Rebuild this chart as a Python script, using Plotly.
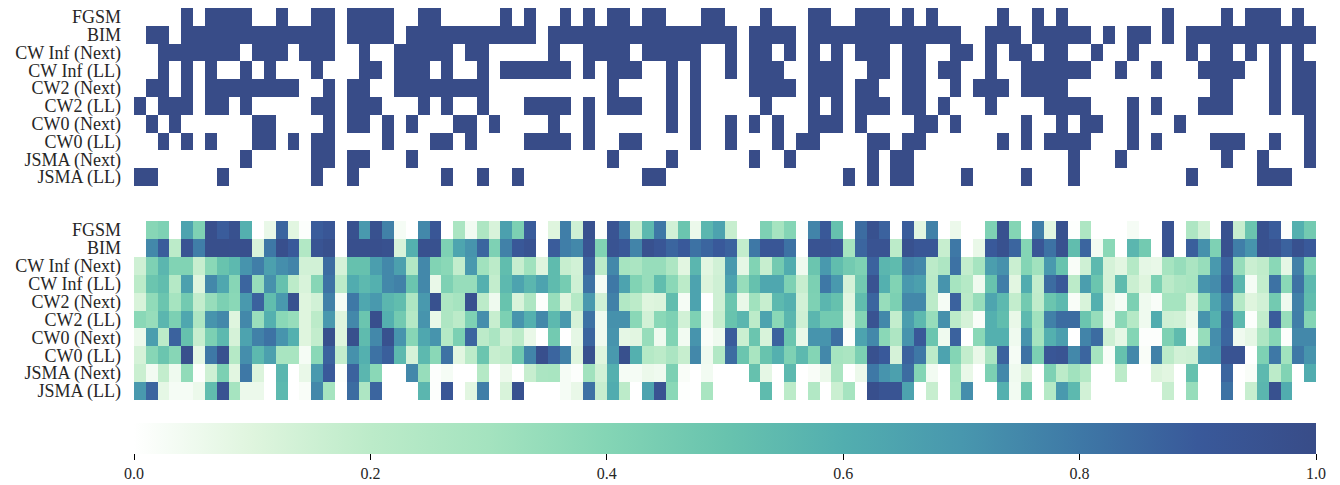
import plotly.graph_objects as go

labels = ["FGSM", "BIM", "CW Inf (Next)", "CW Inf (LL)", "CW2 (Next)", "CW2 (LL)",
          "CW0 (Next)", "CW0 (LL)", "JSMA (Next)", "JSMA (LL)"]
columns = list(range(100))
scale_ticks = [0, .2, .4, .6, .8, 1]
scale_tick_labels = ["0.0", "0.2", "0.4", "0.6", "0.8", "1.0"]

# Upper panel: columns in which each attack succeeded
on_fgsm = [4,6,7,8,9,12,15,16,18,19,20,21,24,25,31,33,36,38,40,41,43,44,48,49,53,57,58,61,62,63,65,67,73,76,78,87,92,94,95,96,98]
on_bim = [1,2,4,5,6,7,8,9,10,11,12,13,14,15,16,18,19,20,21,23,24,25,26,27,28,29,30,31,32,33,35,36,37,38,39,40,41,42,43,44,45,46,47,48,49,50,52,53,54,55,57,58,59,60,61,62,63,64,65,66,67,68,69,72,73,74,76,77,78,79,80,82,84,85,87,89,90,91,92,93,94,95,96,97,98,99]
on_cwinf_next = [2,3,4,5,6,7,8,10,11,12,14,15,16,19,22,23,24,25,26,28,29,35,38,39,40,41,43,44,45,46,47,50,52,53,55,57,59,61,62,63,65,66,69,70,72,74,75,77,78,81,84,89,91,92,94,96,98]
on_cwinf_ll = [2,4,6,9,11,15,19,20,22,23,24,26,29,31,32,33,34,35,36,38,40,41,42,45,47,50,52,53,54,57,58,59,62,63,65,66,68,69,72,75,76,77,78,79,80,83,86,90,91,92,93,96,98,99]
on_cw2_next = [1,2,4,6,7,8,9,10,11,12,13,16,18,19,22,23,24,25,26,27,28,29,40,45,47,52,53,54,55,57,58,59,61,62,65,66,69,71,72,73,75,76,77,78,91,92,96,98,99]
on_cw2_ll = [0,2,3,4,6,7,9,15,16,18,19,20,24,26,29,33,34,35,36,38,40,41,42,45,47,53,57,59,61,62,63,65,66,68,72,77,78,79,80,84,86,90,91,92,96,98,99]
on_cw0_next = [1,3,10,11,16,18,19,21,23,27,28,30,35,38,45,47,50,52,54,57,58,59,61,66,67,69,75,78,80,81,84,88,99]
on_cw0_ll = [2,4,6,10,11,13,15,16,21,25,26,28,33,34,35,36,38,41,42,47,50,54,56,57,62,63,65,66,73,75,77,78,79,80,84,86,91,92,93,96,99]
on_jsma_next = [9,15,16,18,19,23,40,45,52,55,62,64,65,79,83,92,95,99]
on_jsma_ll = [0,1,7,15,18,26,29,32,43,44,60,62,64,65,70,75,79,89,95,96,97]

# Lower panel: score per column
v_fgsm = [0,.39,.42,0,.65,.42,.975,.89,.96,.59,0,.07,.86,.09,.01,.89,.92,0,.96,.69,.96,.77,.03,0,.75,.92,0,.27,.04,.26,.12,.66,.43,.89,
          0,.1,.78,.15,.96,.01,.94,.8,.17,.55,.8,.14,.49,.06,.56,.65,.17,0,0,.42,.29,.4,.01,.76,.91,.51,0,.84,.96,.87,0,.89,.09,
          .77,0,.06,0,0,.42,.96,.4,0,.78,.09,.96,.005,.26,0,0,0,.03,0,0,.945,0,.26,.14,0,.96,.17,.49,.96,.89,.01,.59,.46]
v_bim = [0,.75,.89,.2,.94,.78,.98,.98,.975,.975,.12,.8,.975,.9,.24,.94,.97,0,.975,.975,.975,.96,.12,.59,.96,.96,.42,.64,.71,.86,.42,.77,.91,.945,
         0,.89,.78,.75,.945,.41,.945,.91,.76,.96,.92,.86,.9,.82,.86,.9,.87,.18,.8,.92,.92,.82,0,.945,.945,.92,.29,.86,.945,.945,.2,.96,.92,
         .92,.17,.8,0,.07,.9,.96,.86,.4,.92,.82,.96,.53,.86,.04,.38,0,.56,.46,0,.945,0,.88,.72,.42,.96,.78,.71,.96,.945,.87,.96,.9]
v_cwinf_next = [.15,.42,.56,.41,.41,.17,.38,.5,.55,.71,.78,.66,.73,.76,.14,.14,.84,.13,.51,.51,.67,.75,.66,.24,.75,.41,.38,.18,.69,.31,.2,.53,.17,.31,
                .1,.54,.17,.14,.87,.2,.75,.29,.27,.34,.34,.26,.09,.56,.09,.14,.69,.08,.41,.17,.46,.61,.05,.49,.69,.53,.46,.42,.87,.56,.54,.77,.75,
                .2,.26,.82,.18,.29,.67,.72,.16,.4,.31,.69,.5,.02,.15,.55,.13,.09,.23,.08,.07,.29,.34,.27,.34,.69,.87,.34,.16,.19,.38,.08,.77,.43]
v_cwinf_ll = [.2,.49,.53,.23,.66,.1,.75,.63,.39,.86,.34,.72,.51,.2,.12,.39,.82,.2,.61,.55,.59,.75,.77,.49,.75,.07,.42,.34,.34,.59,.18,.55,.65,.56,
              .65,.54,.45,.15,.82,.03,.8,.65,.41,.34,.53,.38,.2,.65,.11,.15,.65,.34,.51,.63,.63,.42,.17,.43,.8,.69,.13,.46,.945,.59,.41,.69,.66,
              .21,.71,.29,.23,.05,.5,.78,.09,.61,.18,.84,.91,.2,.67,.49,.13,.54,.16,.1,.43,.21,.26,.28,.71,.74,.9,.56,.03,.18,.82,.38,.82,.55]
v_cw2_next = [.12,.36,.49,.29,.46,.18,.34,.43,.38,.69,.87,.53,.69,.96,.1,.14,.77,.03,.8,.63,.69,.56,.53,.26,.69,.96,.26,.29,.96,.2,.05,.5,.12,.26,
              .01,.34,.1,.23,.69,.14,.77,.24,.2,.1,.11,.53,.03,.65,0,.15,.49,.07,.31,.17,.55,.59,.14,.42,.56,.51,.09,.53,.86,.34,.43,.75,.75,
              .2,.03,.87,.21,.34,.64,.55,.18,.46,.19,.49,.55,.02,.12,.59,.07,.03,.43,.05,.02,.29,.29,.1,.36,.65,.8,.23,.1,.14,.46,.05,.77,.53]
v_cw2_ll = [.38,.34,.56,.43,.63,.26,.71,.75,.1,.75,.33,.59,.38,.34,.1,.2,.69,.1,.75,.49,.975,.59,.46,.23,.71,.07,.26,.2,.42,.73,.17,.43,.71,.59,
            .75,.55,.69,.13,.82,.05,.72,.72,.38,.14,.38,.42,.14,.42,.05,.17,.5,.56,.2,.65,.38,.56,.15,.56,.46,.46,.07,.4,.945,.75,.18,.67,.55,
            .34,.72,.2,.13,.02,.59,.53,.07,.55,.31,.77,.84,.84,.49,.34,.05,.38,.23,.05,.61,.15,.14,.06,.71,.59,.87,.55,.01,.18,.89,.34,.78,.4]
v_cw0_next = [.06,.67,.2,.87,.51,.17,.43,.55,.13,.65,.77,.82,.71,.59,.1,.18,.97,.1,.97,.54,.75,.96,.71,.39,.63,.71,.23,.43,.86,.2,.27,.15,.2,.07,
              0,.46,0,.08,.86,.05,.71,.08,.09,.34,.05,.41,.04,.71,.02,.05,.89,.16,.49,.12,.87,.49,.07,.71,.71,.83,.01,.65,.75,.38,.26,.71,.91,
              .49,.05,.87,0,.38,.59,.59,.05,.71,.29,.59,.67,0,.76,.84,.15,.08,.4,.01,.01,.42,.54,.02,.34,.73,.86,.05,.08,.26,.39,.01,.75,.75]
v_cw0_ll = [.13,.39,.49,.39,.97,.08,.8,.96,.23,.73,.55,.66,.28,.28,.03,.38,.87,.18,.72,.59,.82,.88,.55,.13,.55,.38,.82,.09,.2,.49,.17,.19,.47,.76,
            .975,.86,.77,.1,.96,.1,.69,.97,.59,.23,.2,.27,.17,.75,.05,.24,.84,.49,.28,.5,.59,.42,.55,.4,.75,.29,.27,.43,.96,.9,.13,.87,.8,
            .2,.65,.4,.18,.07,.27,.87,.03,.82,.43,.92,.94,.75,.86,.29,.02,.51,.75,.02,.77,.2,.14,.15,.69,.71,.945,.945,0,.42,.8,.31,.8,.71]
v_jsma_next = [.16,.04,.18,.05,.36,.01,.15,.43,.09,.8,.11,0,.56,0,.07,.69,.9,.01,.87,.56,.38,0,0,.75,.34,.01,.03,0,0,.23,0,.06,0,.17,
               .27,.28,.03,.01,.31,.14,.59,.03,.03,.06,.05,.43,.02,0,.04,0,0,0,.51,.08,0,.55,0,.02,.06,.27,0,.06,.8,.71,.66,.84,.4,
               .04,0,.31,.07,0,.43,.75,.05,.12,0,.42,.2,.31,.23,0,0,.2,0,0,.11,.09,0,.51,0,0,.86,0,.02,.55,.2,.41,0,.61]
v_jsma_ll = [.69,.86,.08,.03,.03,.06,.53,.945,.29,.06,.06,0,.55,0,.02,.75,.29,0,.84,.26,.86,0,0,0,.56,.01,.92,0,.09,.78,0,.12,.96,0,
             0,0,.03,.07,.82,.17,.61,.2,0,.65,.945,.38,.005,0,.28,0,0,0,0,.54,0,.2,0,.24,0,.16,.29,0,.975,.94,.94,.65,0,
             .17,0,.29,.73,0,0,.59,.04,.49,0,.23,.69,.55,.14,0,0,0,0,0,0,.17,0,.34,0,0,.82,0,.17,.56,.96,.61,0,0]

on_rows = [on_fgsm, on_bim, on_cwinf_next, on_cwinf_ll, on_cw2_next, on_cw2_ll,
           on_cw0_next, on_cw0_ll, on_jsma_next, on_jsma_ll]
v_rows = [v_fgsm, v_bim, v_cwinf_next, v_cwinf_ll, v_cw2_next, v_cw2_ll,
          v_cw0_next, v_cw0_ll, v_jsma_next, v_jsma_ll]
top_z = [[1 if c in row else 0 for c in columns] for row in on_rows]

W, H = 1340, 485
colorscale = [[0.0, "#ffffff"], [0.1, "#dff5de"], [0.2, "#bcebc9"], [0.3, "#a4e3bf"],
              [0.4, "#84d5b5"], [0.5, "#68c3ae"], [0.6, "#52aeaf"], [0.7, "#4897ae"],
              [0.8, "#3e78a6"], [0.9, "#39599a"], [1.0, "#384c88"]]
font_family = "Liberation Serif, serif"

fig = go.Figure()
fig.add_trace(go.Heatmap(z=top_z, x=columns, y=labels, colorscale=colorscale, zmin=0, zmax=1,
                         showscale=False, xaxis="x", yaxis="y"))
fig.add_trace(go.Heatmap(z=v_rows, x=columns, y=labels, colorscale=colorscale, zmin=0, zmax=1,
                         xaxis="x2", yaxis="y2",
                         colorbar=dict(orientation="h", lenmode="fraction", len=1182 / W, x=134 / W, xanchor="left",
                                       y=(H - 423) / H, yanchor="top", thickness=31, thicknessmode="pixels",
                                       xpad=0, ypad=0, outlinewidth=0, ticks="", showticklabels=False)))
# Tick marks and labels of the colour scale
fig.add_trace(go.Scatter(x=scale_ticks, y=[0] * len(scale_ticks), mode="markers", marker=dict(opacity=0),
                         hoverinfo="skip", showlegend=False, xaxis="x3", yaxis="y3"))

xdom = [134 / W, 1316 / W]
xax = dict(domain=xdom, range=[-0.5, 99.5], visible=False, showgrid=False, zeroline=False)
yax = dict(autorange="reversed", tickfont=dict(family=font_family, size=18, color="#262626"),
           ticks="", showline=False, showgrid=False, zeroline=False, tickmode="array",
           tickvals=labels, ticktext=labels, ticklabelstandoff=12)
fig.update_layout(
    width=W, height=H, margin=dict(l=0, r=0, t=0, b=0, autoexpand=False),
    paper_bgcolor="rgba(0,0,0,0)", plot_bgcolor="rgba(0,0,0,0)",
    xaxis=dict(**xax, anchor="y"),
    xaxis2=dict(**xax, anchor="y2"),
    yaxis=dict(**yax, domain=[(H - 186) / H, (H - 8) / H], anchor="x"),
    yaxis2=dict(**yax, domain=[(H - 400) / H, (H - 221) / H], anchor="x2"),
    xaxis3=dict(domain=xdom, range=[0, 1], anchor="y3", showgrid=False, zeroline=False, showline=False,
                ticks="outside", ticklen=6, tickwidth=1, tickcolor="#000000", tickmode="array",
                tickvals=scale_ticks, ticktext=scale_tick_labels,
                tickfont=dict(family=font_family, size=16, color="#262626")),
    yaxis3=dict(domain=[(H - 453) / H, (H - 423) / H], anchor="x3", visible=False, fixedrange=True),
)
fig.write_html("out.html", config={"displayModeBar": False},
               post_script="document.body.style.margin='0';document.body.style.overflow='hidden';document.body.style.background='white';")
